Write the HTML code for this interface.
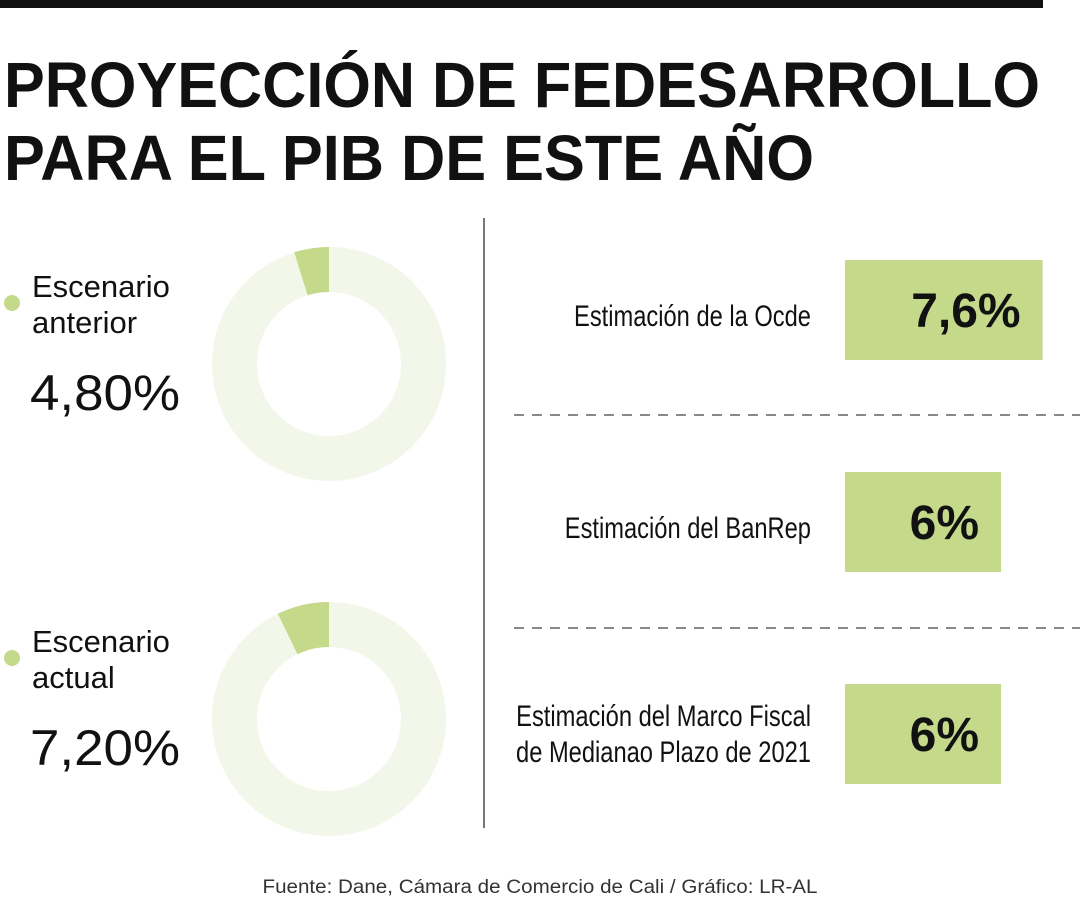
<!DOCTYPE html>
<html><head><meta charset="utf-8"><style>body{margin:0;background:#fff}svg{display:block}</style></head>
<body>
<svg id="chart" width="1080" height="900" viewBox="0 0 1080 900" xmlns="http://www.w3.org/2000/svg" font-family="Liberation Sans, sans-serif">
<rect x="0" y="0" width="1043" height="8" fill="#111"/>
<text x="4" y="107" font-size="64" font-weight="bold" fill="#111" textLength="1036" lengthAdjust="spacingAndGlyphs">PROYECCIÓN DE FEDESARROLLO</text>
<text x="4" y="180" font-size="64" font-weight="bold" fill="#111" textLength="810" lengthAdjust="spacingAndGlyphs">PARA EL PIB DE ESTE AÑO</text>
<line x1="484" y1="218" x2="484" y2="828" stroke="#777" stroke-width="2"/>
<g id="donuts"></g>
<g id="bars"></g>
<line x1="514" y1="415" x2="1080" y2="415" stroke="#888" stroke-width="2" stroke-dasharray="10,8"/>
<line x1="514" y1="628" x2="1080" y2="628" stroke="#888" stroke-width="2" stroke-dasharray="10,8"/>
<text x="540" y="893" font-size="19" fill="#333" text-anchor="middle" textLength="555" lengthAdjust="spacingAndGlyphs">Fuente: Dane, Cámara de Comercio de Cali / Gráfico: LR-AL</text>
</svg>
<script>
const scenarioLabels = [["Escenario","anterior"],["Escenario","actual"]];
const scenarioValues = [4.8, 7.2];
const scenarioText = ["4,80%","7,20%"];
const estimateLabels = [["Estimación de la Ocde"],["Estimación del BanRep"],["Estimación del Marco Fiscal","de Medianao Plazo de 2021"]];
const estimateValues = [7.6, 6, 6];
const estimateText = ["7,6%","6%","6%"];

const NS="http://www.w3.org/2000/svg";
function mk(t,a,p){const e=document.createElementNS(NS,t);for(const k in a)e.setAttribute(k,a[k]);p.appendChild(e);return e;}
const dg=document.getElementById('donuts');
const cx=329, R=117, r=72;
scenarioValues.forEach((v,i)=>{
  const cy=364+i*355;
  const ring=mk('circle',{cx:cx,cy:cy,r:(R+r)/2,fill:'none',stroke:'#f2f7ea','stroke-width':R-r},dg);
  
  
  const a=v/100*2*Math.PI;
  const x1=cx-R*Math.sin(a), y1=cy-R*Math.cos(a), x2=cx-r*Math.sin(a), y2=cy-r*Math.cos(a);
  const large=a>Math.PI?1:0;
  const s=mk('path',{d:`M${cx},${cy-R} A${R},${R} 0 ${large} 0 ${x1},${y1} L${x2},${y2} A${r},${r} 0 ${large} 1 ${cx},${cy-r} Z`,fill:'#c5d98a'},dg);
  
  
  const dot=mk('circle',{cx:12,cy:cy-61,r:8,fill:'#c5d98a'},dg);
  
  
  scenarioLabels[i].forEach((l,j)=>{
    const t=mk('text',{x:32,y:cy-67+j*36,'font-size':31,fill:'#111'},dg);t.textContent=l;
    
    
  });
  const tv=mk('text',{x:30,y:cy+46,'font-size':50,fill:'#111',textLength:150,lengthAdjust:'spacingAndGlyphs'},dg);tv.textContent=scenarioText[i];
  
  
});
const bg=document.getElementById('bars');
const x0=845, unit=26;
estimateValues.forEach((v,i)=>{
  const y=260+i*212;
  const b=mk('rect',{x:x0,y:y,width:v*unit,height:100,fill:'#c5d98a'},bg);
  
  
  const tv=mk('text',{x:x0+v*unit-22,y:y+67,'font-size':48,'font-weight':'bold',fill:'#111','text-anchor':'end'},bg);tv.textContent=estimateText[i];
  
  
  const lines=estimateLabels[i];
  lines.forEach((l,j)=>{
    const yy=lines.length==1?y+66:y+42+j*36;
    const t=mk('text',{x:811,y:yy,'font-size':30,fill:'#111','text-anchor':'end',transform:`translate(811,0) scale(0.79,1) translate(-811,0)`},bg);t.textContent=l;
    
    
  });
});
</script>
</body></html>
